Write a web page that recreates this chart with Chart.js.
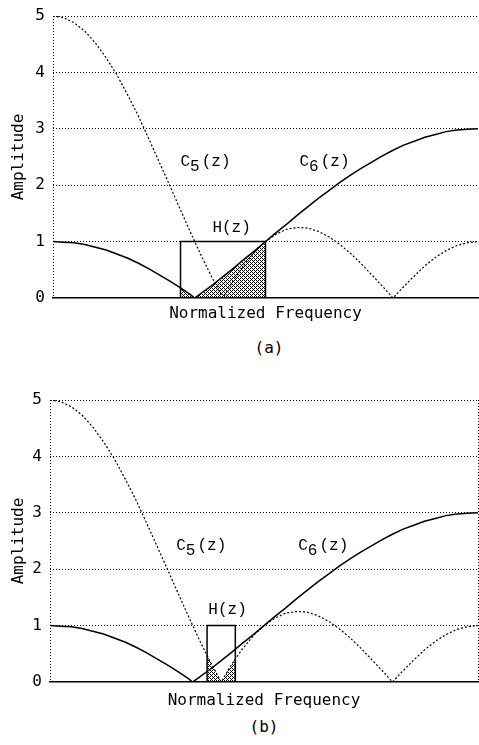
<!DOCTYPE html>
<html>
<head>
<meta charset="utf-8">
<script src="https://cdn.jsdelivr.net/npm/chart.js@4.4.1/dist/chart.umd.min.js"></script>
<style>
  html, body { margin: 0; padding: 0; background: #fff; }
  body { width: 479px; height: 745px; position: relative; overflow: hidden; }
  .panel { position: absolute; left: 0; width: 479px; height: 330px; }
  .caption { position: absolute; font: 16px "DejaVu Sans Mono", monospace; color: #000; transform: translate(-50%, -50%); }
</style>
</head>
<body>
<div class="panel" style="top:0"><canvas id="chartA" width="479" height="330"></canvas></div>
<div class="panel" style="top:384px"><canvas id="chartB" width="479" height="330"></canvas></div>
<div class="caption" style="left:269px;top:347px">(a)</div>
<div class="caption" style="left:264px;top:726px">(b)</div>
<script>
// normalized frequency samples (0 .. 1)
const freq = [0, 0.025, 0.05, 0.075, 0.1, 0.125, 0.15, 0.175, 0.2, 0.225, 0.25, 0.275, 0.3, 0.325, 0.35, 0.375, 0.4, 0.425, 0.45, 0.475, 0.5,
  0.525, 0.55, 0.575, 0.6, 0.625, 0.65, 0.675, 0.7, 0.725, 0.75, 0.775, 0.8, 0.825, 0.85, 0.875, 0.9, 0.925, 0.95, 0.975, 1];
const c5Amp = [5, 4.97, 4.88, 4.73, 4.52, 4.26, 3.96, 3.61, 3.24, 2.83, 2.41, 1.99, 1.56, 1.14, 0.73, 0.35, 0, 0.32, 0.59, 0.82, 1.0,
  1.13, 1.22, 1.25, 1.24, 1.18, 1.08, 0.95, 0.79, 0.61, 0.41, 0.21, 0, 0.2, 0.39, 0.57, 0.72, 0.84, 0.93, 0.98, 1.0];
const c6Freq = [0, 0.025, 0.05, 0.075, 0.1, 0.125, 0.15, 0.175, 0.2, 0.225, 0.25, 0.275, 0.3, 0.325, 0.333, 0.35, 0.375, 0.4, 0.425, 0.45, 0.475, 0.5,
  0.525, 0.55, 0.575, 0.6, 0.625, 0.65, 0.675, 0.7, 0.725, 0.75, 0.775, 0.8, 0.825, 0.85, 0.875, 0.9, 0.925, 0.95, 0.975, 1];
const c6Amp = [1.0, 0.99, 0.98, 0.95, 0.90, 0.85, 0.78, 0.71, 0.62, 0.52, 0.41, 0.30, 0.18, 0.05, 0, 0.09, 0.23, 0.38, 0.53, 0.69, 0.84, 1.0,
  1.16, 1.31, 1.47, 1.62, 1.77, 1.91, 2.05, 2.18, 2.30, 2.41, 2.52, 2.62, 2.71, 2.78, 2.85, 2.90, 2.95, 2.98, 2.99, 3.0];
const passA = [0.30, 0.50];
const passB = [0.367, 0.433];
const hGain = 1;
const ampTicks = [0, 1, 2, 3, 4, 5];

const toPoints = (xs, ys) => xs.map((x, i) => ({ x, y: ys[i] }));

// part of a curve inside the passband, ends taken on the curve itself
function inBand(xs, ys, lo, hi) {
  const at = (v) => {
    const i = xs.findIndex((x) => x >= v);
    if (xs[i] === v) return ys[i];
    const t = (v - xs[i - 1]) / (xs[i] - xs[i - 1]);
    return ys[i - 1] + t * (ys[i] - ys[i - 1]);
  };
  const pts = [{ x: lo, y: at(lo) }];
  xs.forEach((x, i) => { if (x > lo && x < hi) pts.push({ x, y: ys[i] }); });
  pts.push({ x: hi, y: at(hi) });
  return pts;
}

// ordered-dither stipple, like the dotted shading of the plot
function stipple() {
  const tile = document.createElement('canvas');
  tile.width = 4; tile.height = 4;
  const g = tile.getContext('2d');
  g.fillStyle = '#000';
  [[0, 0], [2, 0], [1, 1], [0, 2], [2, 2], [3, 3]].forEach(([px, py]) => g.fillRect(px, py, 1, 1));
  return g.createPattern(tile, 'repeat');
}

const curveLabels = {
  id: 'curveLabels',
  afterDatasetsDraw(chart, args, opts) {
    const { ctx, scales: { x, y } } = chart;
    ctx.save();
    ctx.fillStyle = '#000';
    ctx.textBaseline = 'middle';
    ctx.font = '16px "Liberation Mono", monospace';
    opts.items.forEach((item) => {
      let px = x.getPixelForValue(item.x);
      const py = y.getPixelForValue(item.y);
      ctx.fillText(item.main, px, py);
      px += ctx.measureText(item.main).width;
      if (item.sub) {
        ctx.fillText(item.sub, px, py + 5);
        px += ctx.measureText(item.sub).width + 2;
      }
      ctx.fillText('(z)', px, py);
    });
    ctx.restore();
  }
};

const axisFont = { family: '"DejaVu Sans Mono", monospace', size: 16 };

function makePanel(id, cfg) {
  const band = cfg.band;
  return new Chart(document.getElementById(id), {
    type: 'line',
    data: {
      datasets: [
        { data: toPoints(c6Freq, c6Amp), borderColor: '#000', borderWidth: 1.5 },
        { data: toPoints(freq, c5Amp), borderColor: '#000', borderWidth: 1.2, borderDash: [2, 2] },
        { data: [{ x: band[0], y: 0 }, { x: band[0], y: hGain }, { x: band[1], y: hGain }, { x: band[1], y: 0 }], borderColor: '#000', borderWidth: 1.5 },
        { data: cfg.shade, borderWidth: 0, fill: 'origin', backgroundColor: stipple() }
      ]
    },
    options: {
      responsive: false,
      animation: false,
      layout: { padding: { top: 9, left: 0, right: 1, bottom: 0 } },
      elements: { point: { radius: 0 }, line: { tension: 0 } },
      plugins: {
        legend: { display: false },
        tooltip: { enabled: false },
        curveLabels: { items: cfg.labels }
      },
      scales: {
        x: {
          type: 'linear', min: 0, max: 1,
          ticks: { display: false, stepSize: 1 },
          grid: { drawTicks: false, color: (c) => (c.tick && c.tick.value === 1 && !cfg.rightEdge ? 'rgba(0,0,0,0)' : '#000') },
          border: { display: true, color: '#000', width: 1.5, dash: [1, 2] },
          title: { display: true, text: 'Normalized Frequency', color: '#000', font: axisFont, padding: { top: 0, bottom: cfg.xTitlePad } },
          afterFit: (s) => { s.height = 32; }
        },
        y: {
          min: 0, max: 5,
          afterBuildTicks: (s) => { s.ticks = ampTicks.map((v) => ({ value: v })); },
          ticks: { color: '#000', font: { ...axisFont, lineHeight: 1 }, padding: 8 },
          grid: { drawTicks: false, color: (c) => (c.tick && c.tick.value === 0 ? 'rgba(0,0,0,0)' : '#000') },
          border: { display: false, dash: [1, 2] },
          title: { display: true, text: 'Amplitude', color: '#000', font: axisFont, padding: { top: 9, bottom: 0 } },
          afterFit: (s) => { s.width = cfg.yWidth; }
        }
      }
    },
    plugins: [curveLabels]
  });
}

makePanel('chartA', {
  band: passA,
  shade: inBand(c6Freq, c6Amp, passA[0], passA[1]),
  yWidth: 53,
  xTitlePad: 7,
  rightEdge: false,
  labels: [
    { main: 'C', sub: '5', x: 0.30, y: 2.42 },
    { main: 'C', sub: '6', x: 0.58, y: 2.42 },
    { main: 'H', x: 0.375, y: 1.25 }
  ]
});

makePanel('chartB', {
  band: passB,
  shade: inBand(freq, c5Amp, passB[0], passB[1]),
  yWidth: 50,
  xTitlePad: 4,
  rightEdge: true,
  labels: [
    { main: 'C', sub: '5', x: 0.295, y: 2.42 },
    { main: 'C', sub: '6', x: 0.58, y: 2.42 },
    { main: 'H', x: 0.37, y: 1.28 }
  ]
});
</script>
</body>
</html>
